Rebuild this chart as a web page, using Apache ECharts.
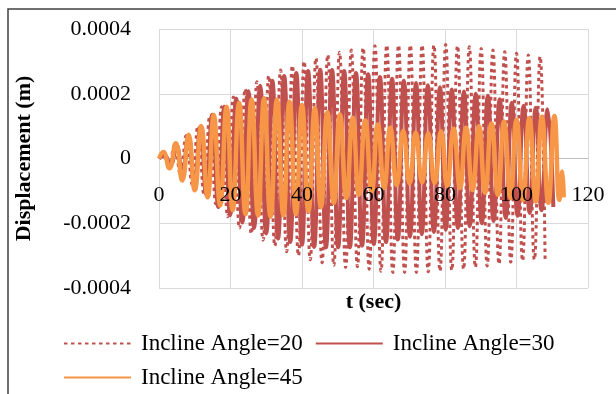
<!DOCTYPE html>
<html><head><meta charset="utf-8">
<script src="https://cdn.jsdelivr.net/npm/echarts@6/dist/echarts.min.js"></script>
<style>html,body{margin:0;padding:0;background:#fff}#c{width:616px;height:394px}</style>
</head><body><div id="c"></div>
<script>
const seriesNames = ['Incline Angle=20', 'Incline Angle=30', 'Incline Angle=45'];
const xTicks = [0, 20, 40, 60, 80, 100, 120];
const yTicks = [-0.0004, -0.0002, 0, 0.0002, 0.0004];
const yTickLabels = ['-0.0004', '-0.0002', '0', '0.0002', '0.0004'];

// Incline Angle=20 (dotted): extrema
const t20 = [0, 1.0, 2.7, 4.3, 6.0, 7.6, 9.3, 10.9, 12.6, 14.2, 15.9, 17.5, 19.2, 20.8, 22.5, 24.1, 25.8, 27.4, 29.1, 30.7, 32.4, 34.0, 35.7, 37.3, 39.0, 40.6, 42.3, 43.9, 45.6, 47.2, 48.9, 50.5, 52.2, 53.8, 55.5, 57.1, 58.8, 60.4, 62.1, 63.7, 65.4, 67.0, 68.7, 70.3, 72.0, 73.6, 75.3, 76.9, 78.6, 80.2, 81.9, 83.5, 85.2, 86.8, 88.5, 90.1, 91.8, 93.4, 95.1, 96.7, 98.4, 100.0, 101.7, 103.3, 105.0, 106.6, 108.0];
const y20 = [0, 0.00001, -0.00002, 0.00004, -0.00005, 0.00007, -0.00008, 0.0001, -0.00011, 0.00013, -0.00014, 0.00016, -0.00018, 0.00019, -0.000215, 0.000215, -0.000232, 0.000237, -0.000252, 0.000256, -0.00027, 0.000273, -0.000288, 0.000287, -0.0003, 0.0003, -0.000313, 0.00031, -0.000322, 0.00032, -0.00033, 0.000328, -0.000337, 0.000335, -0.000334, 0.000342, -0.000342, 0.000348, -0.000348, 0.00035, -0.000352, 0.00035, -0.000352, 0.00035, -0.000352, 0.00035, -0.00035, 0.00035, -0.000348, 0.000352, -0.000345, 0.000348, -0.000342, 0.000345, -0.000336, 0.00034, -0.000332, 0.000335, -0.000326, 0.00033, -0.00032, 0.000325, -0.000316, 0.00032, -0.000312, 0.000315, -0.00031];

// Incline Angle=30 (solid red)
const t30 = [0, 1.5, 3.2, 4.9, 6.5, 8.2, 9.9, 11.6, 13.2, 14.9, 16.6, 18.3, 19.9, 21.6, 23.3, 25.0, 26.6, 28.3, 30.0, 31.7, 33.3, 35.0, 36.7, 38.4, 40.0, 41.7, 43.4, 45.1, 46.7, 48.4, 50.1, 51.8, 53.4, 55.1, 56.8, 58.5, 60.1, 61.8, 63.5, 65.2, 66.8, 68.5, 70.2, 71.9, 73.5, 75.2, 76.9, 78.6, 80.2, 81.9, 83.6, 85.3, 86.9, 88.6, 90.3, 92.0, 93.6, 95.3, 97.0, 98.7, 100.3, 102.0, 103.7, 105.4, 107.0, 108.7, 110.3];
const y30 = [0, 0.00001, -0.00002, 0.00004, -0.00005, 0.00007, -0.00008, 0.0001, -0.00011, 0.000135, -0.00015, 0.00016, -0.000175, 0.000185, -0.000198, 0.000208, -0.000215, 0.000225, -0.000232, 0.00024, -0.000247, 0.000255, -0.000258, 0.000264, -0.000266, 0.00027, -0.000273, 0.000274, -0.000275, 0.000273, -0.000274, 0.00027, -0.000274, 0.000264, -0.000269, 0.00026, -0.000264, 0.000252, -0.000258, 0.000246, -0.00025, 0.00024, -0.000242, 0.000233, -0.000234, 0.000226, -0.000227, 0.00022, -0.00022, 0.000213, -0.000215, 0.000207, -0.000209, 0.0002, -0.0002, 0.000194, -0.000193, 0.000183, -0.000184, 0.000172, -0.000177, 0.000163, -0.000168, 0.000157, -0.00016, 0.000152, -0.00015];

// Incline Angle=45 (orange)
const t45 = [0, 1.2, 2.9, 4.7, 6.5, 8.3, 10.0, 11.8, 13.6, 15.3, 17.1, 18.9, 20.6, 22.4, 24.2, 25.9, 27.7, 29.4, 31.2, 33.0, 34.8, 36.5, 38.3, 40.0, 41.8, 43.6, 45.3, 47.1, 48.9, 50.6, 52.4, 54.2, 55.9, 57.7, 59.5, 61.2, 63.0, 64.7, 66.5, 68.3, 70.1, 71.8, 73.6, 75.3, 77.1, 78.9, 80.6, 82.4, 84.2, 85.9, 87.7, 89.5, 91.2, 93.0, 94.8, 96.5, 98.3, 100.0, 101.8, 103.6, 105.4, 107.1, 108.9, 110.6, 112.0, 112.8, 113.2];
const y45 = [0, 0.00002, -0.00003, 0.000047, -0.000068, 0.000073, -0.000098, 0.0001, -0.00012, 0.000134, -0.000145, 0.00016, -0.00016, 0.000172, -0.000172, 0.000182, -0.000176, 0.000186, -0.00018, 0.000182, -0.000176, 0.000176, -0.000172, 0.000165, -0.000163, 0.000155, -0.00015, 0.000143, -0.000137, 0.000136, -0.000122, 0.000126, -0.000112, 0.000117, -0.000102, 0.000105, -0.000091, 0.000095, -0.000082, 0.000086, -0.000077, 0.00008, -0.000074, 0.000078, -0.000076, 0.000084, -0.000085, 0.000092, -0.000091, 0.000095, -0.000097, 0.0001, -0.000106, 0.000108, -0.000112, 0.000114, -0.000122, 0.000119, -0.000128, 0.000124, -0.000133, 0.000129, -0.000137, 0.000131, -0.000128, -0.00004, -0.00012];

const zip = (t, y) => t.map((v, i) => [v, y[i]]);
const serif = '"Liberation Serif", "Times New Roman", serif';
const gridTop = 29, gridBottom = 106, chartH = 394;
const plotH = chartH - gridTop - gridBottom;
const xMin = xTicks[0], xMax = xTicks[xTicks.length - 1];

const chart = echarts.init(document.getElementById('c'), null, {renderer: 'canvas'});
chart.setOption({
  animation: false,
  backgroundColor: '#fff',
  graphic: [{
    type: 'rect', shape: {x: 8, y: 9, width: 1000, height: 1000},
    style: {fill: 'none', stroke: '#404040', lineWidth: 1.5}, silent: true
  }],
  grid: {left: 159, right: 28, top: gridTop, bottom: gridBottom, containLabel: false, outerBoundsMode: 'none'},
  xAxis: [{
    // grid lines and zero line (behind the series)
    type: 'value', min: xMin, max: xMax, interval: 20,
    position: 'bottom', offset: -plotH / 2, z: 0,
    axisLine: {show: true, onZero: false, lineStyle: {color: '#bfbfbf', width: 1}},
    axisTick: {show: false}, axisLabel: {show: false},
    splitLine: {show: true, lineStyle: {color: '#d9d9d9', width: 1}}
  }, {
    // tick labels and title (drawn over the series)
    type: 'value', min: xMin, max: xMax, interval: 20,
    position: 'bottom', offset: -plotH / 2, z: 10,
    name: 't (sec)', nameLocation: 'middle', nameGap: 133,
    nameTextStyle: {fontFamily: serif, fontSize: 22, fontWeight: 'bold', color: '#000'},
    axisLine: {show: false, onZero: false}, axisTick: {show: false},
    axisLabel: {margin: 26, fontFamily: serif, fontSize: 22, color: '#000'},
    splitLine: {show: false}
  }],
  yAxis: {
    type: 'value', min: yTicks[0], max: yTicks[yTicks.length - 1], interval: 0.0002,
    name: 'Displacement (m)', nameLocation: 'middle', nameGap: 124,
    nameTextStyle: {fontFamily: serif, fontSize: 22, fontWeight: 'bold', color: '#000'},
    axisLine: {show: false, onZero: false}, axisTick: {show: false},
    axisLabel: {margin: 28, fontFamily: serif, fontSize: 22, color: '#000',
      formatter: v => { const i = yTicks.findIndex(x => Math.abs(x - v) < 1e-9); return i >= 0 ? yTickLabels[i] : ''; }},
    splitLine: {show: true, lineStyle: {color: '#d9d9d9', width: 1}}
  },
  legend: [{
    data: [seriesNames[0], seriesNames[1]], left: 63, top: 332, padding: 0,
    itemWidth: 67, itemHeight: 14, itemGap: 12,
    textStyle: {fontFamily: serif, fontSize: 23, color: '#000', padding: [0, 0, 0, 5]}
  }, {
    data: [seriesNames[2]], left: 63, top: 366, padding: 0,
    itemWidth: 67, itemHeight: 14,
    textStyle: {fontFamily: serif, fontSize: 23, color: '#000', padding: [0, 0, 0, 5]}
  }],
  series: [{
    name: seriesNames[0], type: 'line', xAxisIndex: 0, data: zip(t20, y20), smooth: 0.5, symbol: 'none',
    lineStyle: {color: '#C0504D', width: 3, type: [3.5, 3.5]}, itemStyle: {color: '#C0504D', opacity: 0}
  }, {
    name: seriesNames[1], type: 'line', xAxisIndex: 0, data: zip(t30, y30), smooth: 0.5, symbol: 'none',
    lineStyle: {color: '#C0504D', width: 4}, itemStyle: {color: '#C0504D', opacity: 0}
  }, {
    name: seriesNames[2], type: 'line', xAxisIndex: 0, data: zip(t45, y45), smooth: 0.5, symbol: 'none',
    lineStyle: {color: '#F79646', width: 4.5}, itemStyle: {color: '#F79646', opacity: 0}
  }]
});
</script></body></html>
